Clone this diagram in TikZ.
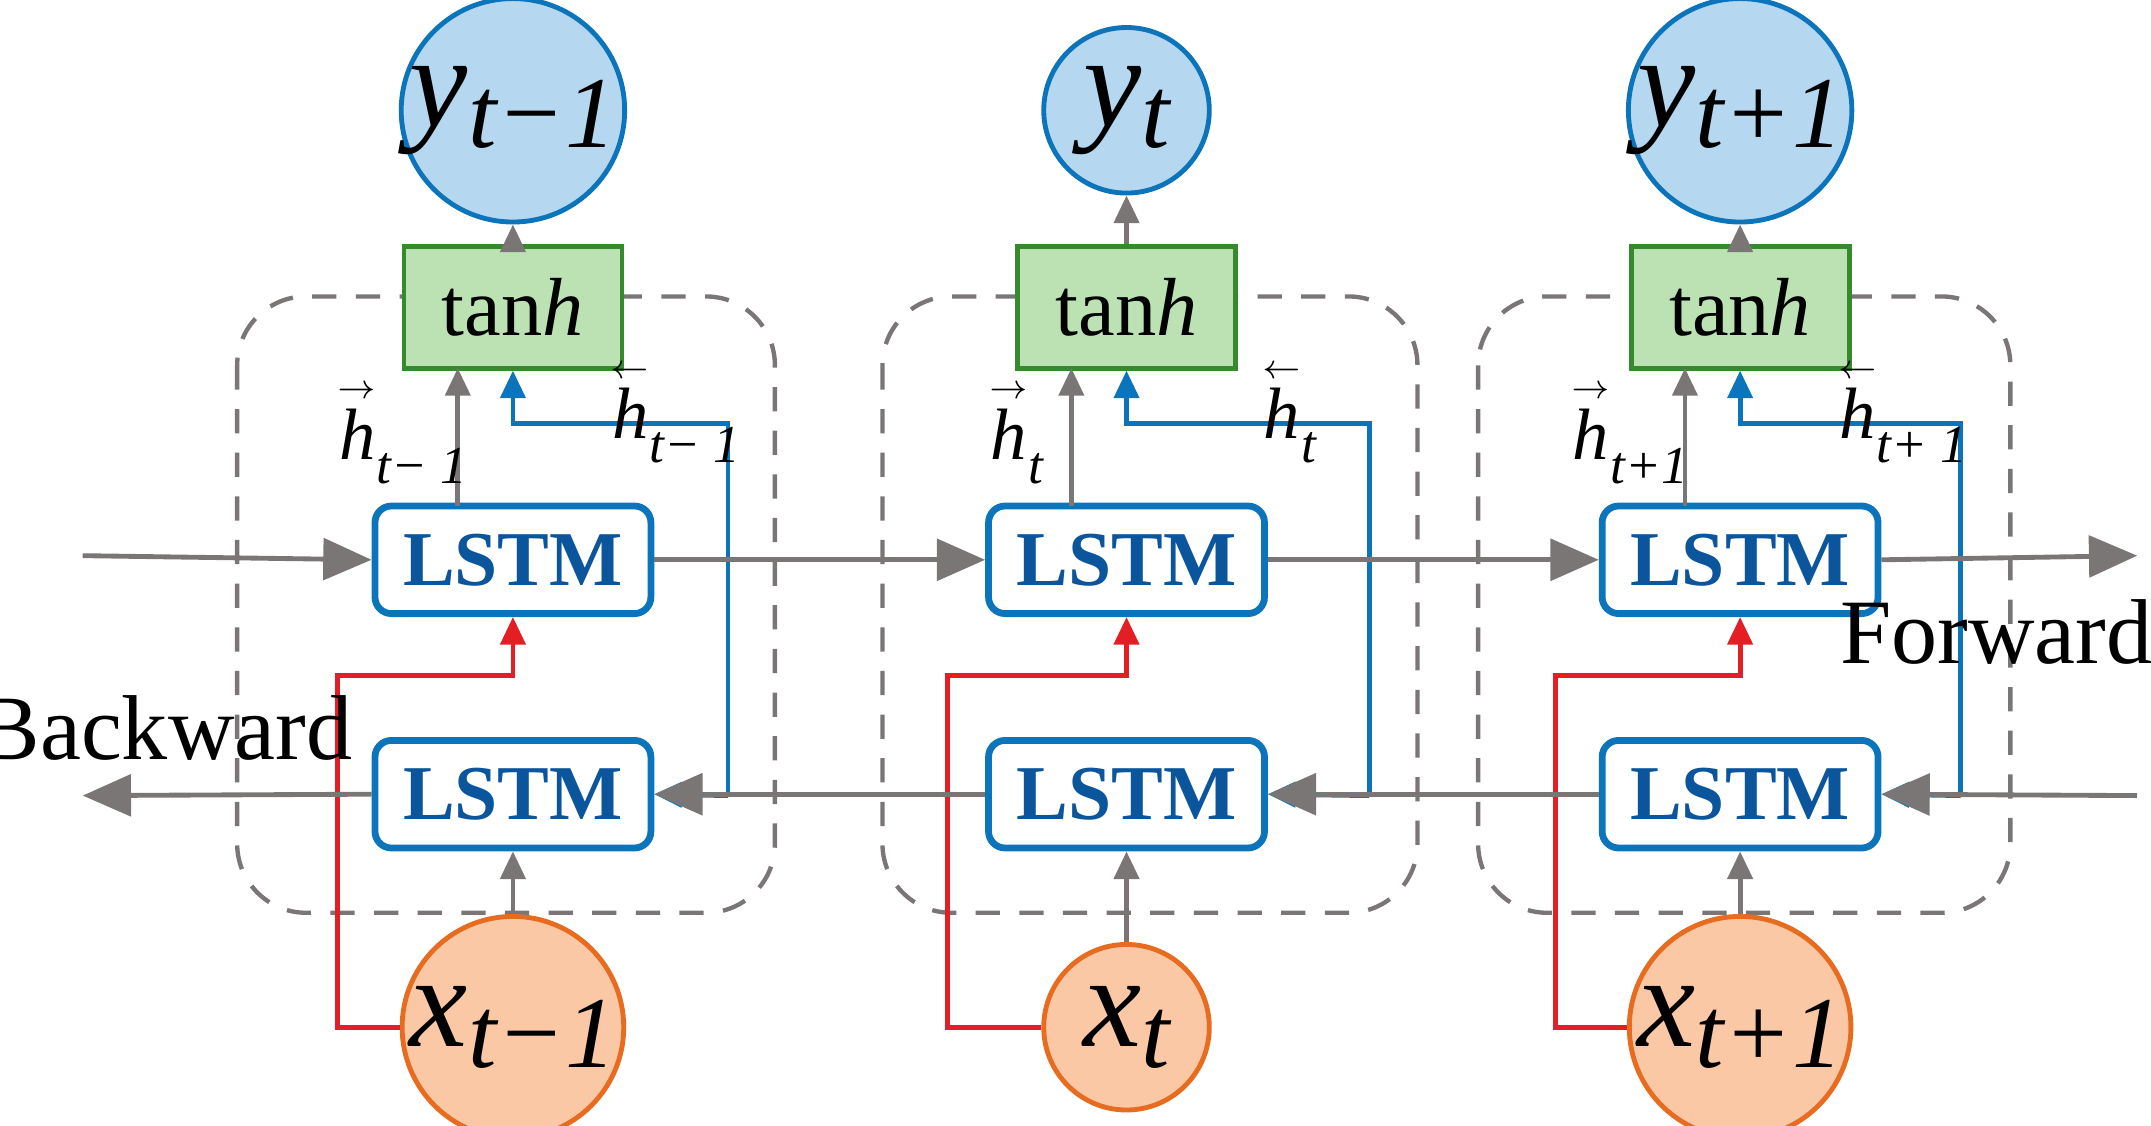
\documentclass[tikz,border=0pt]{standalone}
\usepackage{fontspec}
\setmainfont{Liberation Serif}
\usetikzlibrary{arrows.meta}
\definecolor{gr}{HTML}{7A7676}
\definecolor{bl}{HTML}{0C74BB}
\definecolor{dbl}{HTML}{0A559C}
\definecolor{rd}{HTML}{E51E24}
\definecolor{yfill}{HTML}{B5D8F0}
\definecolor{tfill}{HTML}{BCE2B4}
\definecolor{tdraw}{HTML}{358A2D}
\definecolor{xfill}{HTML}{FBC8A6}
\definecolor{xdraw}{HTML}{E76C1F}
\newcommand\myBig{\fontsize{27}{27}\selectfont\itshape}
\newcommand\mySub[1]{\raisebox{-0.35ex}{\fontsize{21}{21}\selectfont\itshape #1}}
\newcommand\myHsub[1]{\raisebox{-1.1ex}{\fontsize{11}{11}\selectfont\itshape #1}}
\newcommand\myHr{\ensuremath{\stackrel{\rightarrow}{\mbox{\fontsize{15}{15}\selectfont\itshape h}}}}
\newcommand\myHl{\ensuremath{\stackrel{\leftarrow}{\mbox{\fontsize{15}{15}\selectfont\itshape h}}}}
\begin{document}
\begin{tikzpicture}[x=0.01cm,y=-0.01cm,
  yc/.style={circle,draw=bl,fill=yfill,line width=1pt,minimum size=1.2cm,inner sep=0pt},
  xc/.style={circle,draw=xdraw,fill=xfill,line width=1pt,minimum size=1.2cm,inner sep=0pt},
  th/.style={draw=tdraw,fill=tfill,line width=1pt,minimum width=1.58cm,minimum height=0.88cm,font=\fontsize{17}{17}\selectfont},
  ls/.style={draw=bl,fill=white,line width=1.4pt,rounded corners=0.12cm,minimum width=2cm,minimum height=0.78cm,font=\fontsize{16}{16}\selectfont\bfseries,text=dbl},
  dbox/.style={draw=gr,dashed,dash pattern=on 5pt off 4pt,line width=0.9pt,rounded corners=0.5cm},
  ga/.style={draw=gr,line width=1pt,-{Triangle[length=0.35cm,width=0.3cm]}},
  gv/.style={draw=gr,line width=1pt,-{Triangle[length=0.2cm,width=0.18cm]}},
  ba/.style={draw=bl,line width=1pt,-{Triangle[length=0.2cm,width=0.18cm]}},
  ra/.style={draw=rd,line width=1pt,-{Triangle[length=0.2cm,width=0.18cm]}}]
\useasboundingbox (0,0) rectangle (1560,816);
\draw[dbox] (172,215) rectangle (562,662);
\draw[dbox] (640,215) rectangle (1028,662);
\draw[dbox] (1072,215) rectangle (1458,662);
\coordinate (fl) at (60,403); \coordinate (fr) at (1550,403);
\coordinate (bl0) at (60,577); \coordinate (br) at (1550,577);
\foreach \c/\x/\bx/\rx/\lab/\hx/\hy in {1/372/528/245/{t−1}/{t− 1}/{t− 1},2/817/993/687/{t}/{t}/{t},3/1262/1422/1128/{t+1}/{t+1}/{t+ 1}}{
  \node[yc] (y\c) at (\x,80) {\myBig y\mySub{\lab}};
  \node[th] (t\c) at (\x,223) {tan\textit{h}};
  \node[ls] (a\c) at (\x,406) {LSTM};
  \node[ls] (b\c) at (\x,576) {LSTM};
  \node[xc] (x\c) at (\x,745) {\myBig x\mySub{\lab}};
  \draw[gv] (t\c.north) -- (y\c.south);
  \draw[gv] (x\c.north) -- (b\c.south);
  \draw[gv] (\x-40,367) -- (\x-40,267);
  \coordinate (bj\c) at (\bx,577);
  \draw[ba] (bj\c) |- (\x,307) -- (t\c.south);
  \draw[ba] (bj\c) -- (b\c.east);
  \coordinate (rj\c) at (\rx,745);
  \draw[ra] (x\c.west) -- (rj\c) |- (\x,490) -- (a\c.south);
  \node[anchor=base] at (\x-80,333) {\myHr\myHsub{\hx}};
  \node[anchor=base] at (\x+118,318) {\myHl\myHsub{\hy}};
}
\draw[ga] (fl) -- (a1.west);
\draw[ga] (a1.east) -- (a2.west);
\draw[ga] (a2.east) -- (a3.west);
\draw[ga] (a3.east) -- (fr);
\draw[ga] (br) -- (b3.east);
\draw[ga] (b3.west) -- (b2.east);
\draw[ga] (b2.west) -- (b1.east);
\draw[ga] (b1.west) -- (bl0);
\node[font=\fontsize{19}{19}\selectfont] (bw) at (120,528) {Backward};
\node[font=\fontsize{19}{19}\selectfont] (fw) at (1448,458) {Forward};
\end{tikzpicture}
\end{document}
